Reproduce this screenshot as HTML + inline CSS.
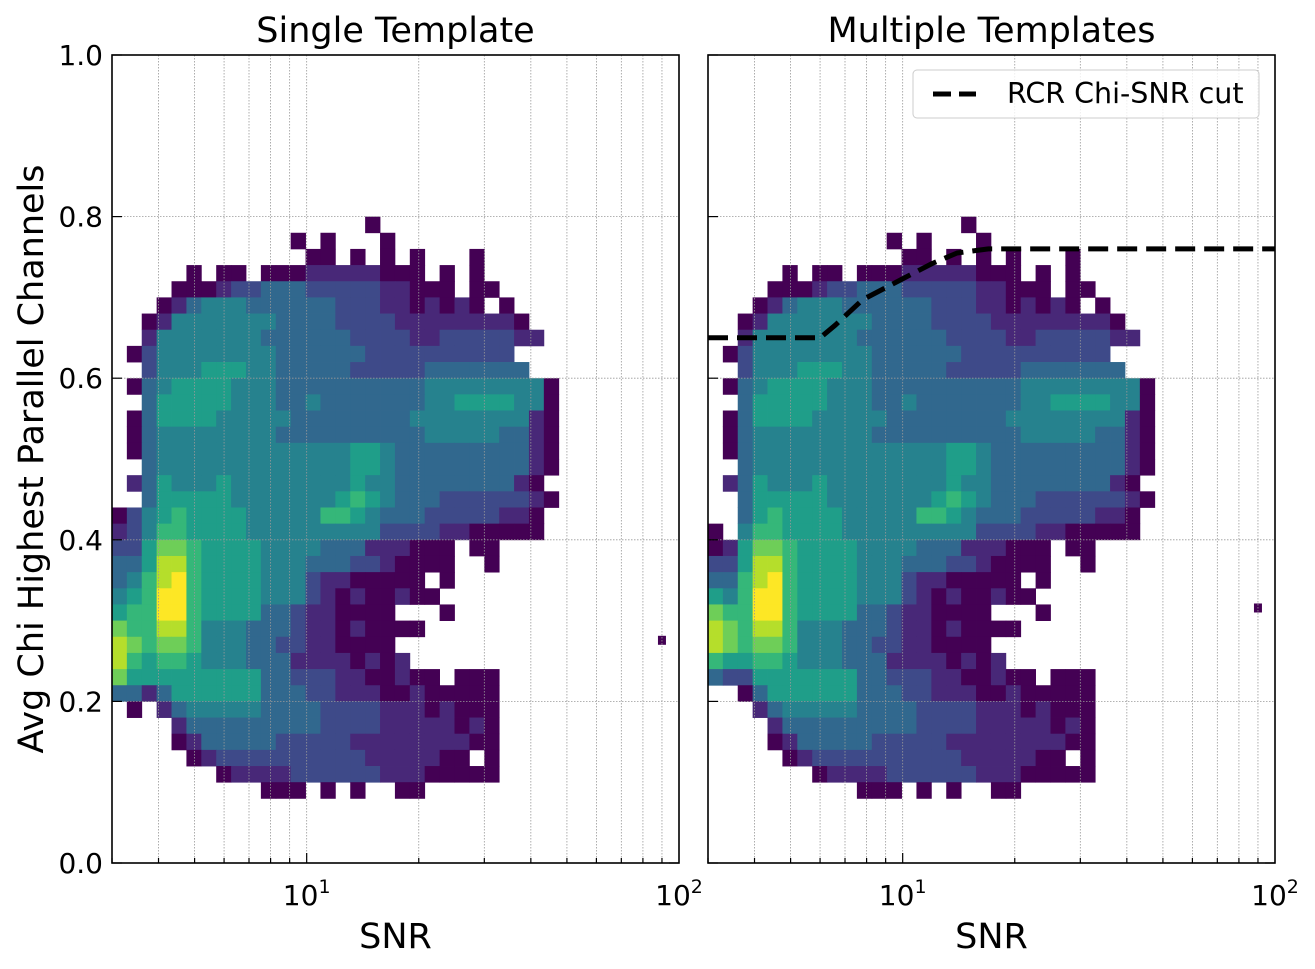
<!DOCTYPE html>
<html><head><meta charset="utf-8">
<style>
html,body{margin:0;padding:0;background:#fff;}
svg{display:block;font-family:"DejaVu Sans","Liberation Sans",sans-serif;}
</style></head>
<body>
<svg id="chart" width="1315" height="969" viewBox="0 0 1315 969" xmlns="http://www.w3.org/2000/svg"></svg>
<script>
// ---- data ----
const xTickLabels = ["10", "10"];
const xTickExps = ["1", "2"];
const yTickLabels = ["0.0", "0.2", "0.4", "0.6", "0.8", "1.0"];
const yTickValues = [0, 0.2, 0.4, 0.6, 0.8, 1.0];
const panelTitles = ["Single Template", "Multiple Templates"];
const colStartLog = 0.477;
const colStepLog = 0.04;
const rowTopY = 0.80;
const rowStepY = 0.02;
const leftRows = [
".................0............",
"............0.0...0...........",
".............00.0.0.0...0.....",
".....0.00.00011111000.0.0.....",
"....0001223332222211000.00....",
"...0134443333332221101010.0...",
"..01444444433332222111111110..",
"..144444443333332222112222211.",
".02444444443333332222222222...",
"..24445554433333222223333333..",
".03455554443333333333444444440",
"..3555554443343333333445555440",
".03555544444333333334444444410",
".03444444443333333333444443310",
".03444444444444455433333333310",
"..3444444444444455433333333310",
".1354445444444445443333333310.",
"..3555554444444565433322222210",
"02456555544444665433322222110.",
"12466555544444444422221100000.",
"22577655554444333111000.00....",
"33588655554443332210000..0....",
"346896555544421100000.0.......",
"4569965555444210100100........",
"5669965555332110000...0......",
"766886444333211010000.........",
"8767764443322110000...........",
"86566544433311110101..........",
"7555555555332221100100.000....",
"33135555553332211100100000....",
".0.13444443333222211101000....",
"....1333333333222211111010....",
"....0133333222221111111100....",
".....0122222222221111100.0....",
".......0111122222211100000....",
"..........000.0.0..00........."
];
const rightRows = [
".................0............",
"............0.0...0...........",
".............00.0.0.0...0.....",
".....0.00.00011111000.0.0.....",
"....0001223332222211000.00....",
"...0134443333332221101010.0...",
"..01444444433332222111111110..",
"..144444443333332222112222211.",
".02444444443333332222222222...",
"..24445554433333222223333333..",
".03455554443333333333444444440",
"..3555554443343333333445555440",
".03555544444333333334444444410",
".03444444443333333333444443310",
".03444444444444455433333333310",
"..3444444444444455433333333310",
".1354445444444445443333333310.",
"..3555554444444565433322222210",
"..356555544444665433322222110.",
"0.466555544444444422221100000.",
"01577655554444333111000.00....",
"22588655554443332210000..0....",
"336896555544421100000.0.......",
"5469965555444210100100........",
"7669965555332110000...0......",
"876886444333211010000.........",
"8767764443322110000...........",
"65566544433311110101..........",
"3225555555332221100100.000....",
"..035555553332211100100000....",
"...13444443333222211101000....",
"....1333333333222211111010....",
"....0133333222221111111100....",
".....0122222222221111100.0....",
".......0111122222211100000....",
"..........000.0.0..00........."
];
const outlierSnr = [90, 90];
const outlierChi = [0.275, 0.315];
const cutSnr = [3, 6, 6.6, 7.8, 9.9, 12, 14, 17, 100];
const cutChi = [0.65, 0.65, 0.666, 0.697, 0.722, 0.742, 0.755, 0.76, 0.76];
const viridis = ["#440154","#482878","#3e4a89","#31688e","#26828e","#1f9e89","#35b779","#6ece58","#b5de2b","#fde725"];

// ---- layout ----
const NS = "http://www.w3.org/2000/svg";
const svg = document.getElementById("chart");
const panels = [{x0:112, x1:679}, {x0:708, x1:1275}];
const yTop = 55, yBot = 863;
const logMin = Math.log10(3), logMax = 2;
function el(tag, attrs, parent){ const e=document.createElementNS(NS,tag); for(const k in attrs) e.setAttribute(k,attrs[k]); (parent||svg).appendChild(e); return e; }
function xScale(p, snr){ return p.x0 + (Math.log10(snr)-logMin)/(logMax-logMin)*(p.x1-p.x0); }
function xScaleLog(p, lg){ return p.x0 + (lg-logMin)/(logMax-logMin)*(p.x1-p.x0); }
function yScale(v){ return yBot - v*(yBot-yTop); }

panels.forEach((p, pi) => {
  const g = el("g", {});
  
  
  const rows = pi===0 ? leftRows : rightRows;
  const hm = el("g", {}, g);
  
  
  rows.forEach((row, r) => {
    for (let c = 0; c < row.length; c++) {
      const ch = row[c];
      if (ch === ".") continue;
      const v = parseInt(ch, 10);
      const xa = xScaleLog(p, colStartLog + c*colStepLog);
      const xb = xScaleLog(p, colStartLog + (c+1)*colStepLog);
      const ya = yScale(rowTopY - r*rowStepY);
      const yb = yScale(rowTopY - (r+1)*rowStepY);
      const rect = el("rect", {x: Math.max(p.x0, xa).toFixed(2), y: ya.toFixed(2), width: (xb-Math.max(p.x0,xa)+0.4).toFixed(2), height: (yb-ya+0.4).toFixed(2), fill: viridis[v]}, hm);
      
      
    }
  });
  const ox = xScale(p, outlierSnr[pi]), oy = yScale(outlierChi[pi]);
  const o = el("rect", {x: ox-4, y: oy-5, width: 8, height: 9, fill: viridis[0]}, g);
  
  
  const grid = el("g", {stroke:"#999", "stroke-width":0.8, "stroke-dasharray":"1.5,1.5"}, g);
  
  
  for (let dec = 0; dec <= 1; dec++) {
    for (let m = 1; m <= 9; m++) {
      const s = m*Math.pow(10, dec);
      if (s <= 3 || s >= 100) continue;
      const x = xScale(p, s);
      el("line", {x1:x, x2:x, y1:yTop, y2:yBot}, grid);
    }
  }
  yTickValues.forEach(v => { if (v>0 && v<1) el("line", {x1:p.x0, x2:p.x1, y1:yScale(v), y2:yScale(v)}, grid); });
  const ticks = el("g", {stroke:"#000", "stroke-width":1.2}, g);
  
  
  yTickValues.forEach(v => el("line", {x1:p.x0, x2:p.x0+10, y1:yScale(v), y2:yScale(v)}, ticks));
  for (let dec = 0; dec <= 1; dec++) for (let m = 1; m <= 9; m++) {
    const s = m*Math.pow(10, dec);
    if (s < 3 || s > 100) continue;
    const x = xScale(p, s);
    el("line", {x1:x, x2:x, y1:yBot, y2:yBot-(m===1?10:5)}, ticks);
  }
  el("line", {x1:p.x1, x2:p.x1-10, y1:yBot, y2:yBot}, ticks);
  const fr = el("rect", {x:p.x0, y:yTop, width:p.x1-p.x0, height:yBot-yTop, fill:"none", stroke:"#000", "stroke-width":1.6}, g);
  
  
  [10, 100].forEach((s, i) => {
    const t = el("text", {x: xScale(p, s), y: 905, "text-anchor":"middle", "font-size":28}, g);
    
    
    t.textContent = xTickLabels[i];
    const sup = el("tspan", {dy:-12, "font-size":19}, t);
    sup.textContent = xTickExps[i];
  });
  const xt = el("text", {x:(p.x0+p.x1)/2, y:948, "text-anchor":"middle", "font-size":35}, g);
  
  
  xt.textContent = "SNR";
  const tt = el("text", {x:(p.x0+p.x1)/2, y:42, "text-anchor":"middle", "font-size":35}, g);
  
  
  tt.textContent = panelTitles[pi];
});

yTickValues.forEach((v, i) => {
  const t = el("text", {x:103, y:yScale(v)+10, "text-anchor":"end", "font-size":28});
  
  
  t.textContent = yTickLabels[i];
});
const yt = el("text", {x:0, y:0, "text-anchor":"middle", "font-size":35, transform:"translate(43,459) rotate(-90)"});


yt.textContent = "Avg Chi Highest Parallel Channels";

const pr = panels[1];
const pts = cutSnr.map((s, i) => xScale(pr, s).toFixed(1) + "," + yScale(cutChi[i]).toFixed(1)).join(" ");
const cut = el("polyline", {points: pts, fill:"none", stroke:"#000", "stroke-width":5, "stroke-dasharray":"20,9", "stroke-linejoin":"round"});



const lg = el("g", {});


el("rect", {x:913, y:70, width:346, height:48, rx:4, fill:"#fff", "fill-opacity":0.8, stroke:"#ccc", "stroke-width":1}, lg);
const ls = el("line", {x1:933, x2:976, y1:94, y2:94, stroke:"#000", "stroke-width":5, "stroke-dasharray":"18,8"}, lg);


const lt = el("text", {x:1007, y:103, "font-size":28.5}, lg);


lt.textContent = "RCR Chi-SNR cut";
</script>
</body></html>
